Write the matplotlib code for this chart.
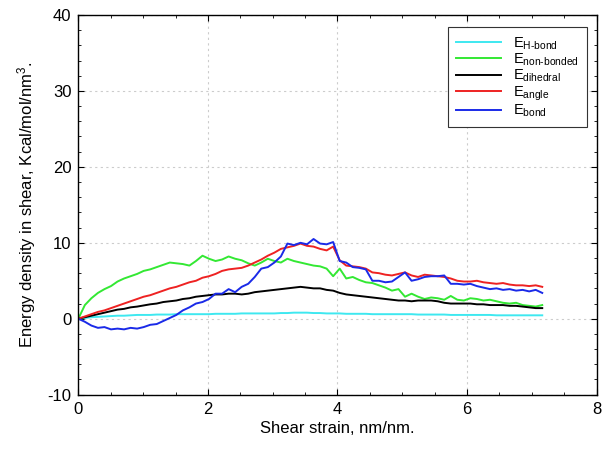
import numpy as np
import matplotlib
matplotlib.use('Agg')
import matplotlib.pyplot as plt
from matplotlib.ticker import MultipleLocator

plt.rcParams['font.family'] = ['Liberation Sans', 'DejaVu Sans']
plt.rcParams['mathtext.fontset'] = 'custom'
plt.rcParams['mathtext.rm'] = 'Liberation Sans'
plt.rcParams['mathtext.it'] = 'Liberation Sans'
plt.rcParams['axes.unicode_minus'] = False

# shear strain sampling (nm/nm)
strain = np.linspace(0, 7.16, 72)

e_hbond = [0.0, 0.1, 0.2, 0.25, 0.3, 0.35, 0.4, 0.4, 0.45, 0.5,
           0.5, 0.5, 0.55, 0.55, 0.55, 0.6, 0.6, 0.6, 0.6, 0.6,
           0.6, 0.65, 0.65, 0.65, 0.65, 0.7, 0.7, 0.7, 0.7, 0.7,
           0.7, 0.75, 0.75, 0.8, 0.8, 0.8, 0.75, 0.75, 0.7, 0.7,
           0.7, 0.65, 0.65, 0.65, 0.65, 0.6, 0.6, 0.6, 0.6, 0.6,
           0.6, 0.6, 0.55, 0.55, 0.55, 0.55, 0.55, 0.5, 0.5, 0.5,
           0.5, 0.5, 0.5, 0.5, 0.45, 0.45, 0.45, 0.45, 0.45, 0.45,
           0.45, 0.45]

e_nonbonded = [0.0, 1.8, 2.7, 3.4, 3.9, 4.3, 4.9, 5.3, 5.6, 5.9,
               6.3, 6.5, 6.8, 7.1, 7.4, 7.3, 7.2, 7.0, 7.6, 8.3,
               7.9, 7.6, 7.8, 8.2, 7.9, 7.7, 7.3, 7.0, 7.4, 7.9,
               7.6, 7.4, 7.9, 7.6, 7.4, 7.2, 7.0, 6.9, 6.6, 5.6,
               6.6, 5.3, 5.5, 5.1, 4.8, 4.7, 4.4, 4.1, 3.7, 3.9,
               2.9, 3.3, 2.9, 2.6, 2.8, 2.7, 2.5, 3.0, 2.5, 2.4,
               2.7, 2.6, 2.4, 2.5, 2.3, 2.1, 2.0, 2.1, 1.8, 1.7,
               1.6, 1.8]

e_dihedral = [0.0, 0.2, 0.4, 0.6, 0.8, 1.0, 1.2, 1.3, 1.5, 1.6,
              1.75, 1.9, 2.0, 2.2, 2.3, 2.4, 2.6, 2.7, 2.9, 3.0,
              3.1, 3.2, 3.2, 3.3, 3.3, 3.2, 3.3, 3.5, 3.6, 3.7,
              3.8, 3.9, 4.0, 4.1, 4.2, 4.1, 4.0, 4.0, 3.8, 3.7,
              3.4, 3.2, 3.1, 3.0, 2.9, 2.8, 2.7, 2.6, 2.5, 2.4,
              2.4, 2.3, 2.4, 2.4, 2.4, 2.3, 2.1, 2.0, 2.0, 2.0,
              2.0, 1.9, 1.9, 1.8, 1.8, 1.8, 1.7, 1.7, 1.6, 1.5,
              1.4, 1.4]

e_angle = [0.0, 0.3, 0.6, 0.9, 1.1, 1.4, 1.7, 2.0, 2.3, 2.6,
           2.9, 3.1, 3.4, 3.7, 4.0, 4.2, 4.5, 4.8, 5.0, 5.4,
           5.6, 5.9, 6.3, 6.5, 6.6, 6.7, 7.0, 7.4, 7.8, 8.3,
           8.7, 9.2, 9.4, 9.6, 9.9, 9.6, 9.5, 9.2, 9.0, 9.5,
           7.7, 7.0, 6.9, 6.8, 6.6, 6.1, 6.0, 5.8, 5.7, 5.9,
           6.1, 5.7, 5.5, 5.8, 5.7, 5.6, 5.5, 5.3, 5.0, 4.9,
           4.9, 5.0, 4.8, 4.7, 4.6, 4.7, 4.5, 4.4, 4.4, 4.3,
           4.4, 4.2]

e_bond = [0.0, -0.4, -0.9, -1.2, -1.1, -1.4, -1.3, -1.4, -1.2, -1.3,
          -1.1, -0.8, -0.7, -0.3, 0.1, 0.5, 1.1, 1.5, 2.0, 2.2,
          2.6, 3.3, 3.3, 3.9, 3.5, 4.2, 4.6, 5.5, 6.6, 6.8,
          7.4, 8.2, 9.9, 9.7, 10.0, 9.8, 10.5, 9.9, 9.8, 10.1,
          7.6, 7.4, 6.8, 6.7, 6.5, 5.0, 5.0, 4.8, 4.9, 5.5,
          6.1, 5.0, 5.2, 5.5, 5.6, 5.6, 5.7, 4.6, 4.6, 4.5,
          4.6, 4.3, 4.1, 3.9, 4.0, 3.8, 3.9, 3.7, 3.8, 3.6,
          3.8, 3.4]

series = [
    (e_hbond, '#3ee8f0', r'E$_{\mathregular{H\text{-}bond}}$'),
    (e_nonbonded, '#33e833', r'E$_{\mathregular{non\text{-}bonded}}$'),
    (e_dihedral, 'black', r'E$_{\mathregular{dihedral}}$'),
    (e_angle, '#ee2222', r'E$_{\mathregular{angle}}$'),
    (e_bond, '#1a2ae8', r'E$_{\mathregular{bond}}$'),
]

fig = plt.figure(figsize=(6.03, 4.49), dpi=100)
ax = fig.add_axes([0.1299, 0.121, 0.8596, 0.8456])

for vals, col, lab in series:
    ax.plot(strain, vals, color=col, lw=1.4, label=lab)

ax.set_xlim(0, 8)
ax.set_ylim(-10, 40)
ax.xaxis.set_major_locator(MultipleLocator(2))
ax.xaxis.set_minor_locator(MultipleLocator(0.5))
ax.yaxis.set_major_locator(MultipleLocator(10))
ax.yaxis.set_minor_locator(MultipleLocator(2))
ax.tick_params(which='both', direction='in', top=True, right=True, labelsize=12)
ax.tick_params(which='major', length=4, pad=5)
ax.tick_params(which='minor', length=2.5)
ax.grid(True, which='major', linestyle=(0, (2, 3)), color='#cccccc', lw=0.8)
for s in ax.spines.values():
    s.set_linewidth(1.0)

ax.set_xlabel('Shear strain, nm/nm.', fontsize=12, labelpad=3)
ax.set_ylabel(r'Energy density in shear, Kcal/mol/nm$^{\mathregular{3}}$.', fontsize=12, labelpad=7)

leg = ax.legend(loc='upper right', bbox_to_anchor=(0.981, 0.968), borderaxespad=0,
                fontsize=10.5, handlelength=3.1, handletextpad=0.8, labelspacing=0.0,
                borderpad=0.55, fancybox=False, framealpha=1, edgecolor='#333333')
leg.get_frame().set_linewidth(0.8)

fig.savefig('out.png', dpi=100)
